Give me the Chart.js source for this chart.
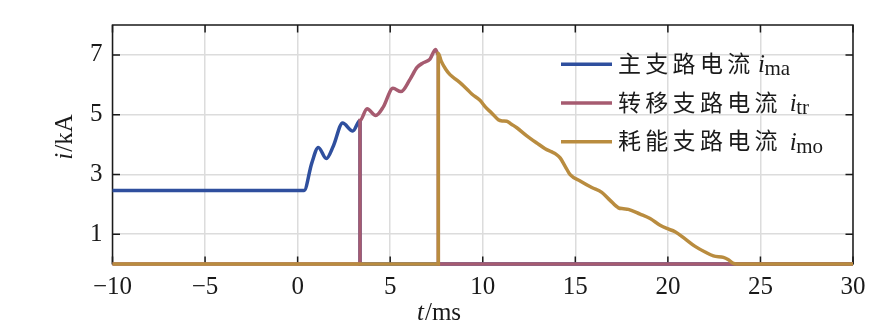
<!DOCTYPE html>
<html>
<head>
<meta charset="utf-8">
<script src="https://cdn.jsdelivr.net/npm/chart.js@4.4.1/dist/chart.umd.min.js"></script>
<style>
  html, body { margin: 0; padding: 0; background: #fff; }
</style>
</head>
<body>
<canvas id="chart" width="896" height="333"></canvas>
<script>
// Axis ticks
const xTicks = [-10, -5, 0, 5, 10, 15, 20, 25, 30];
const yTicks = [1, 3, 5, 7];

// Series names (legend)
const seriesNames = ['主支路电流', '转移支路电流', '耗能支路电流'];
const seriesSubs = ['ma', 'tr', 'mo'];
const seriesColors = ['#2f4f9e', '#a65b70', '#b98c3f'];

// 主支路电流 i_ma  (t in ms, i in kA)
const maTime = [-10, 0.35, 0.76, 1.12, 1.55, 1.93, 2.43, 2.98, 3.37, 3.37, 30];
const maCurrent = [2.46, 2.46, 3.37, 3.90, 3.53, 3.95, 4.72, 4.45, 4.80, 0, 0];

// 转移支路电流 i_tr
const trTime = [-10, 3.37, 3.37, 3.75, 4.22, 4.63, 5.15, 5.58, 6.07, 6.45, 6.80, 7.15, 7.45, 7.6, 7.6, 30];
const trCurrent = [0, 0, 4.80, 5.20, 4.97, 5.26, 5.88, 5.77, 6.18, 6.58, 6.74, 6.86, 7.18, 7.0, 0, 0];

// 耗能支路电流 i_mo
const moTime = [-10, 7.6, 7.6, 7.75, 8.0, 8.23, 8.55, 8.86, 9.15, 9.41, 9.85, 10.15, 10.49, 10.84,
  11.05, 11.30, 11.55, 11.84, 12.38, 12.92, 13.37, 13.70, 13.95, 14.18, 14.45, 14.72, 15.26,
  15.89, 16.43, 16.88, 17.33, 17.6, 17.87, 18.50, 19.04, 19.58, 19.94, 20.39, 20.93, 21.47,
  22.01, 22.46, 23.00, 23.25, 23.54, 23.7, 30];
const moCurrent = [0, 0, 7.05, 6.80, 6.52, 6.34, 6.18, 6.02, 5.85, 5.69, 5.48, 5.25, 5.05, 4.83,
  4.79, 4.78, 4.68, 4.56, 4.29, 4.05, 3.86, 3.76, 3.68, 3.55, 3.27, 2.99, 2.78,
  2.56, 2.40, 2.13, 1.88, 1.85, 1.83, 1.67, 1.52, 1.30, 1.19, 1.08, 0.84, 0.59,
  0.40, 0.27, 0.22, 0.15, 0.02, 0, 0];

const toPoints = (xs, ys) => xs.map((x, i) => ({ x: x, y: ys[i] }));

const serif = '"Liberation Serif", "Times New Roman", serif';
const cjk = '"Noto Sans CJK SC", sans-serif';
const lineW = 3.5;

// box around the plot + inward tick marks on all four sides
const boxPlugin = {
    id: 'box',
    beforeDatasetsDraw(chart) {
        const { ctx, chartArea: a, scales } = chart;
        ctx.save();
        ctx.strokeStyle = '#1a1a1a';
        ctx.lineWidth = 1.5;
        ctx.strokeRect(a.left, a.top, a.right - a.left, a.bottom - a.top);
        const len = 7.5;
        ctx.beginPath();
        xTicks.forEach(v => {
            const px = scales.x.getPixelForValue(v);
            ctx.moveTo(px, a.bottom); ctx.lineTo(px, a.bottom - len);
            ctx.moveTo(px, a.top); ctx.lineTo(px, a.top + len);
        });
        yTicks.forEach(v => {
            const py = scales.y.getPixelForValue(v);
            ctx.moveTo(a.left, py); ctx.lineTo(a.left + len, py);
            ctx.moveTo(a.right, py); ctx.lineTo(a.right - len, py);
        });
        ctx.stroke();
        ctx.restore();
    }
};

// axis titles and legend with italic symbols
const textPlugin = {
    id: 'texts',
    afterDraw(chart) {
        const ctx = chart.ctx;
        ctx.save();
        ctx.fillStyle = '#1a1a1a';

        // x title: t/ms
        ctx.textBaseline = 'alphabetic';
        ctx.textAlign = 'left';
        ctx.font = 'italic 25px ' + serif;
        let x = 417;
        ctx.fillText('t', x, 320);
        x += ctx.measureText('t').width + 1;
        ctx.font = '25px ' + serif;
        ctx.fillText('/ms', x, 320);

        // y title: i/kA (rotated)
        ctx.save();
        ctx.translate(65, 137);
        ctx.rotate(-Math.PI / 2);
        ctx.textBaseline = 'middle';
        ctx.font = 'italic 25px ' + serif;
        const wi = ctx.measureText('i').width + 1;
        ctx.font = '25px ' + serif;
        const wr = ctx.measureText('/kA').width;
        let sx = -(wi + wr) / 2;
        ctx.font = 'italic 25px ' + serif;
        ctx.fillText('i', sx, 0);
        ctx.font = '25px ' + serif;
        ctx.fillText('/kA', sx + wi, 0);
        ctx.restore();

        // legend
        seriesNames.forEach((name, r) => {
            const ly = 64.3 + r * 38.7;
            ctx.strokeStyle = seriesColors[r];
            ctx.lineWidth = lineW;
            ctx.beginPath();
            ctx.moveTo(561, ly);
            ctx.lineTo(612, ly);
            ctx.stroke();

            ctx.font = '23px ' + cjk;
            ctx.textBaseline = 'middle';
            const chars = Array.from(name);
            chars.forEach((ch, k) => ctx.fillText(ch, 618 + k * 27.3, ly - 1));

            let ix = 618 + chars.length * 27.3 + (chars.length === 5 ? 3.5 : 8);
            ctx.textBaseline = 'alphabetic';
            ctx.font = 'italic 25px ' + serif;
            ctx.fillText('i', ix, ly + 8);
            ix += ctx.measureText('i').width - 0.5;
            ctx.font = '21px ' + serif;
            ctx.fillText(seriesSubs[r], ix, ly + 11);
        });
        ctx.restore();
    }
};

const ds = (label, xs, ys, color, order) => ({
    label: label,
    data: toPoints(xs, ys),
    borderColor: color,
    borderWidth: lineW,
    pointRadius: 0,
    fill: false,
    clip: 4,
    cubicInterpolationMode: 'monotone',
    order: order
});

new Chart(document.getElementById('chart'), {
    type: 'line',
    data: {
        datasets: [
            ds(seriesNames[0], maTime, maCurrent, seriesColors[0], 3),
            ds(seriesNames[1], trTime, trCurrent, seriesColors[1], 2),
            ds(seriesNames[2], moTime, moCurrent, seriesColors[2], 1)
        ]
    },
    options: {
        responsive: false,
        animation: false,
        devicePixelRatio: 1,
        layout: { padding: { top: 16, right: 43, left: 0, bottom: 0 } },
        plugins: {
            legend: { display: false },
            tooltip: { enabled: false }
        },
        scales: {
            x: {
                type: 'linear',
                min: -10,
                max: 30,
                afterFit: s => { s.height = 69; },
                afterBuildTicks: s => { s.ticks = xTicks.map(v => ({ value: v })); },
                grid: { color: '#dcdcdc', lineWidth: 1.5, drawTicks: false },
                border: { display: false },
                ticks: {
                    padding: 8,
                    color: '#1a1a1a',
                    font: { family: serif, size: 25 },
                    maxRotation: 0,
                    callback: v => String(v).replace('-', '\u2212')
                }
            },
            y: {
                min: 0,
                max: 8,
                afterFit: s => { s.width = 112.5; },
                afterBuildTicks: s => { s.ticks = yTicks.map(v => ({ value: v })); },
                grid: { color: '#dcdcdc', lineWidth: 1.5, drawTicks: false },
                border: { display: false },
                ticks: {
                    padding: 10,
                    color: '#1a1a1a',
                    font: { family: serif, size: 25 }
                }
            }
        }
    },
    plugins: [boxPlugin, textPlugin]
});
</script>
</body>
</html>
